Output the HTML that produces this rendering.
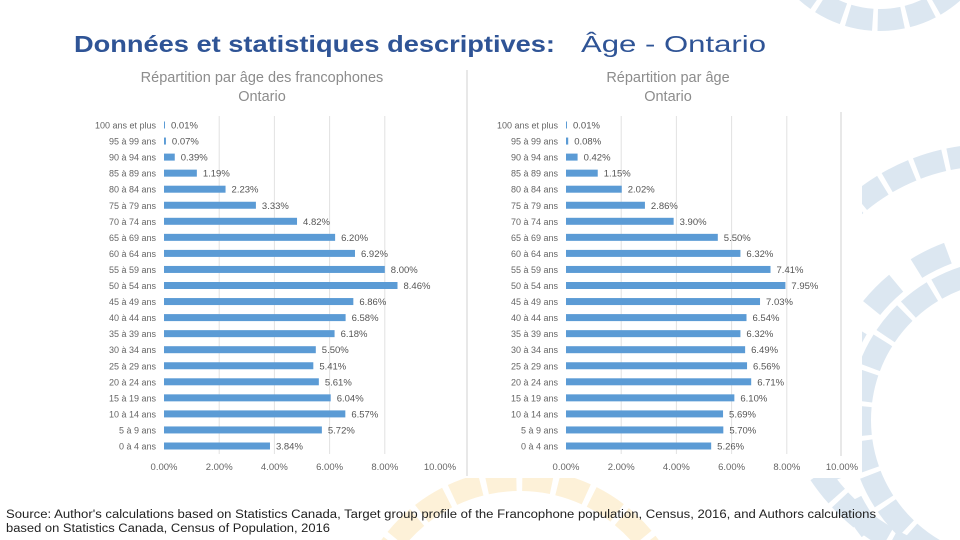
<!DOCTYPE html>
<html><head><meta charset="utf-8"><style>
html,body{margin:0;width:960px;height:540px;overflow:hidden;background:#fff;font-family:"Liberation Sans",sans-serif}
svg{position:absolute;left:0;top:0;display:block}
</style></head><body>
<svg id="s" width="960" height="540">
<defs><clipPath id="clip"><rect x="0" y="0" width="960" height="540"/></clipPath></defs>
<g clip-path="url(#clip)" fill="none" stroke-width="22">
<circle cx="1010" cy="420" r="150" stroke="#dce7f1" stroke-dasharray="30 5"/>
<circle cx="1010" cy="420" r="178" stroke="#dce7f1" stroke-dasharray="0 20 35 5"/>
<circle cx="990" cy="360" r="205" stroke="#dce7f1" stroke-dasharray="28 5"/>
<circle cx="880" cy="-90" r="110" stroke="#dce7f1" stroke-dasharray="25 5"/>
<circle cx="520" cy="640" r="160" stroke="#fdf1d8" stroke-dasharray="30 6"/>
</g>
<rect x="60" y="62" width="802" height="416" fill="#fff"/>
<text x="74" y="52" font-size="23" fill="#2f5496" font-weight="bold" textLength="481" lengthAdjust="spacingAndGlyphs">Données et statistiques descriptives:</text>
<text x="581" y="52" font-size="23" fill="#2f5496" textLength="185" lengthAdjust="spacingAndGlyphs">Âge - Ontario</text>
<line x1="467" y1="70" x2="467" y2="476" stroke="#d0d0d0"/>
<line x1="841" y1="112" x2="841" y2="456" stroke="#d0d0d0"/>
<text x="6" y="518" font-size="11.5" fill="#222" textLength="870" lengthAdjust="spacingAndGlyphs">Source: Author's calculations based on Statistics Canada, Target group profile of the Francophone population, Census, 2016, and Authors calculations</text>
<text x="6" y="532" font-size="11.5" fill="#222" textLength="324" lengthAdjust="spacingAndGlyphs">based on Statistics Canada, Census of Population, 2016</text>
</svg>
<script>
const categories=["100 ans et plus","95 à 99 ans","90 à 94 ans","85 à 89 ans","80 à 84 ans","75 à 79 ans","70 à 74 ans","65 à 69 ans","60 à 64 ans","55 à 59 ans","50 à 54 ans","45 à 49 ans","40 à 44 ans","35 à 39 ans","30 à 34 ans","25 à 29 ans","20 à 24 ans","15 à 19 ans","10 à 14 ans","5 à 9 ans","0 à 4 ans"];
const francoValues=[0.01,0.07,0.39,1.19,2.23,3.33,4.82,6.20,6.92,8.00,8.46,6.86,6.58,6.18,5.50,5.41,5.61,6.04,6.57,5.72,3.84];
const ontarioValues=[0.01,0.08,0.42,1.15,2.02,2.86,3.90,5.50,6.32,7.41,7.95,7.03,6.54,6.32,6.49,6.56,6.71,6.10,5.69,5.70,5.26];
const tickValues=[0,2,4,6,8,10];
const svg=document.getElementById('s');
const NS='http://www.w3.org/2000/svg';
function mk(t,a,p){const e=document.createElementNS(NS,t);for(const k in a)e.setAttribute(k,a[k]);(p||svg).appendChild(e);return e;}
function chart(x0,vals,title1,title2,cx,key){
  const g=mk('g',{});
  
  
  const xs=v=>x0+v*27.6;
  const ys=i=>125+i*16.05;
  const t1=mk('text',{x:cx,y:82,'font-size':14.5,fill:'#8c8c8c','text-anchor':'middle'},g);t1.textContent=title1;
  
  
  const t2=mk('text',{x:cx,y:101,'font-size':14.5,fill:'#8c8c8c','text-anchor':'middle'},g);t2.textContent=title2;
  
  
  tickValues.forEach(v=>{
    if(v>0&&v<10){const l=mk('line',{x1:xs(v),x2:xs(v),y1:116,y2:454,stroke:'#e2e2e2'},g);
    
    }
    const t=mk('text',{x:xs(v),y:470,'font-size':9.5,fill:'#666','text-anchor':'middle'},g);t.textContent=v.toFixed(2)+'%';
    
    
  });
  categories.forEach((c,i)=>{
    const y=ys(i);
    const t=mk('text',{x:x0-8,y:y+3.5,'font-size':9,fill:'#666','text-anchor':'end'},g);t.textContent=c;
    
    
    const w=Math.max(xs(vals[i])-x0,1);
    const r=mk('rect',{x:x0,y:y-3.5,width:w,height:7,fill:'#5b9bd5'},g);
    
    
    const vl=mk('text',{x:x0+w+6,y:y+3.5,'font-size':9.5,fill:'#555'},g);vl.textContent=vals[i].toFixed(2)+'%';
    
    
  });
}
chart(164,francoValues,'Répartition par âge des francophones','Ontario',262,'francophones');
chart(566,ontarioValues,'Répartition par âge','Ontario',668,'ontario');
</script>
</body></html>
